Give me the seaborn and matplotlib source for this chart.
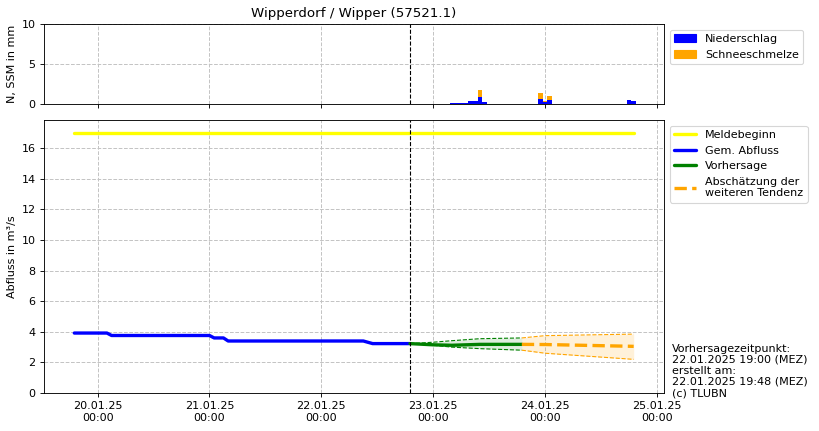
import matplotlib
matplotlib.use("Agg")
import matplotlib.pyplot as plt
import matplotlib.dates as mdates
from matplotlib.patches import Patch
from matplotlib.lines import Line2D
import seaborn as sns
import pandas as pd

# ---------------- data ----------------
title = "Wipperdorf / Wipper (57521.1)"

# precipitation bars (hourly, centered on hour)
bar_times = ["2025-01-23 04:00", "2025-01-23 05:00", "2025-01-23 06:00", "2025-01-23 07:00",
             "2025-01-23 08:00", "2025-01-23 09:00", "2025-01-23 10:00", "2025-01-23 11:00",
             "2025-01-23 23:00", "2025-01-24 00:00", "2025-01-24 01:00",
             "2025-01-24 18:00", "2025-01-24 19:00"]
niederschlag = [0.15, 0.15, 0.15, 0.15, 0.4, 0.4, 0.9, 0.3, 0.65, 0.25, 0.5, 0.55, 0.4]
schneeschmelze = [0.0, 0.0, 0.0, 0.0, 0.0, 0.0, 0.9, 0.0, 0.7, 0.12, 0.5, 0.0, 0.0]

melde_times = ["2025-01-19 19:00", "2025-01-24 19:00"]
melde_values = [17.0, 17.0]

obs_times = ["2025-01-19 19:00", "2025-01-20 02:00", "2025-01-20 03:00", "2025-01-21 00:00",
             "2025-01-21 01:00", "2025-01-21 03:00", "2025-01-21 04:00", "2025-01-22 09:00",
             "2025-01-22 11:00", "2025-01-22 19:00"]
obs_values = [3.92, 3.92, 3.76, 3.76, 3.6, 3.6, 3.4, 3.4, 3.23, 3.23]

fc_times = ["2025-01-22 19:00", "2025-01-23 00:00", "2025-01-23 04:00", "2025-01-23 10:00",
            "2025-01-23 19:00"]
fc_values = [3.23, 3.15, 3.12, 3.18, 3.18]
fc_upper = [3.23, 3.32, 3.42, 3.55, 3.6]
fc_lower = [3.23, 3.12, 3.0, 2.9, 2.8]

tend_times = ["2025-01-23 19:00", "2025-01-24 00:00", "2025-01-24 19:00"]
tend_values = [3.18, 3.17, 3.05]
tend_upper = [3.6, 3.75, 3.85]
tend_lower = [2.8, 2.6, 2.2]

forecast_time = "2025-01-22 19:00"
day_ticks = ["2025-01-20", "2025-01-21", "2025-01-22", "2025-01-23", "2025-01-24", "2025-01-25"]
info_text = ("Vorhersagezeitpunkt:\n22.01.2025 19:00 (MEZ)\nerstellt am:\n"
             "22.01.2025 19:48 (MEZ)\n(c) TLUBN")

# ---------------- style ----------------
sns.set_style("ticks")
FS = 10
plt.rcParams["font.family"] = ["DejaVu Sans"]
plt.rcParams["font.size"] = FS
for key in ("text.color", "axes.labelcolor", "xtick.color", "ytick.color"):
    plt.rcParams[key] = "black"

W, H, DPI = 819, 431, 80
fig = plt.figure(figsize=(W / DPI, H / DPI), dpi=DPI)
ax1 = fig.add_axes([44 / W, 1 - 104 / H, 620 / W, 80 / H])
ax2 = fig.add_axes([44 / W, 1 - 393 / H, 620 / W, 273 / H], sharex=ax1)

grid_kw = dict(color="#c4c4c4", linestyle="--", linewidth=0.9)

# ---------------- top: bars ----------------
bt = pd.to_datetime(bar_times)
width = 1 / 24
ax1.bar(bt, niederschlag, width=width, color="#0000ff", linewidth=0, label="Niederschlag")
ax1.bar(bt, schneeschmelze, width=width, bottom=niederschlag, color="#ffa500", linewidth=0,
        label="Schneeschmelze")
ax1.set_ylim(0, 10)
ax1.set_yticks([0, 5, 10])
ax1.set_ylabel("N, SSM in mm", fontsize=FS)
ax1.set_title(title, fontsize=12)
ax1.grid(True, **grid_kw)
ax1.axvline(pd.Timestamp(forecast_time), color="black", linestyle="--", linewidth=1)
plt.setp(ax1.get_xticklabels(), visible=False)
ax1.legend(handles=[Patch(color="#0000ff", label="Niederschlag"),
                    Patch(color="#ffa500", label="Schneeschmelze")],
           loc="upper left", bbox_to_anchor=(1.0, 1.0), fontsize=FS)

# ---------------- bottom: discharge ----------------
df_melde = pd.DataFrame({"t": pd.to_datetime(melde_times), "v": melde_values})
df_obs = pd.DataFrame({"t": pd.to_datetime(obs_times), "v": obs_values})
df_fc = pd.DataFrame({"t": pd.to_datetime(fc_times), "v": fc_values,
                      "lo": fc_lower, "hi": fc_upper})
df_tend = pd.DataFrame({"t": pd.to_datetime(tend_times), "v": tend_values,
                        "lo": tend_lower, "hi": tend_upper})

ax2.fill_between(df_fc["t"], df_fc["lo"], df_fc["hi"], color="#008000", alpha=0.13, linewidth=0)
ax2.fill_between(df_tend["t"], df_tend["lo"], df_tend["hi"], color="#ffa500", alpha=0.15,
                 linewidth=0)
sns.lineplot(data=df_fc, x="t", y="hi", ax=ax2, color="#008000", linestyle="--", linewidth=1)
sns.lineplot(data=df_fc, x="t", y="lo", ax=ax2, color="#008000", linestyle="--", linewidth=1)
sns.lineplot(data=df_tend, x="t", y="hi", ax=ax2, color="#ffa500", linestyle="--", linewidth=1)
sns.lineplot(data=df_tend, x="t", y="lo", ax=ax2, color="#ffa500", linestyle="--", linewidth=1)

sns.lineplot(data=df_melde, x="t", y="v", ax=ax2, color="#ffff00", linewidth=3)
sns.lineplot(data=df_obs, x="t", y="v", ax=ax2, color="#0000ff", linewidth=3)
sns.lineplot(data=df_fc, x="t", y="v", ax=ax2, color="#008000", linewidth=3)
sns.lineplot(data=df_tend, x="t", y="v", ax=ax2, color="#ffa500", linewidth=3, linestyle="--")

ax2.axvline(pd.Timestamp(forecast_time), color="black", linestyle="--", linewidth=1)
ax2.set_ylim(0, 17.85)
ax2.set_yticks(range(0, 17, 2))
ax2.set_ylabel("Abfluss in m³/s", fontsize=FS)
ax2.set_xlabel("")
ax2.grid(True, **grid_kw)

ax2.set_xlim(pd.Timestamp("2025-01-19 12:30"), pd.Timestamp("2025-01-25 01:30"))
ax2.set_xticks(pd.to_datetime(day_ticks))
ax2.xaxis.set_major_formatter(mdates.DateFormatter("%d.%m.%y\n%H:%M"))

ax2.legend(handles=[Line2D([], [], color="#ffff00", linewidth=3, label="Meldebeginn"),
                    Line2D([], [], color="#0000ff", linewidth=3, label="Gem. Abfluss"),
                    Line2D([], [], color="#008000", linewidth=3, label="Vorhersage"),
                    Line2D([], [], color="#ffa500", linewidth=3, linestyle="--",
                           label="Abschätzung der\nweiteren Tendenz")],
           loc="upper left", bbox_to_anchor=(1.0, 1.0), fontsize=FS)

for ax in (ax1, ax2):
    for s in ax.spines.values():
        s.set_visible(True)
        s.set_color("black")
    ax.tick_params(direction="out", length=4, color="black", labelcolor="black",
                   labelsize=FS)

fig.text(672 / W, 1 - 398 / H, info_text, ha="left", va="bottom", fontsize=FS,
         linespacing=1.13, color="black")

fig.savefig("out.png", dpi=DPI)
